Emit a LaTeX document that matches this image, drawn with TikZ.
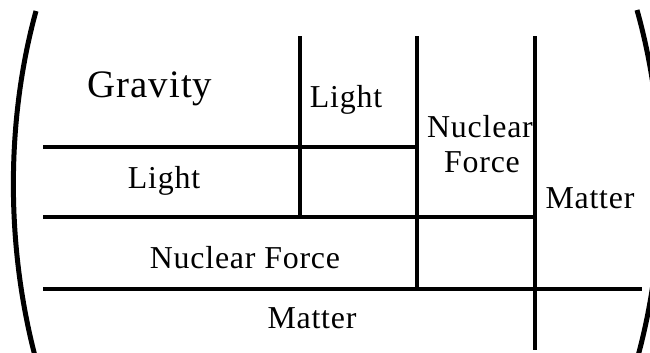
\documentclass[tikz,border=0pt]{standalone}
\usepackage{fontspec}
\setmainfont{Liberation Serif}[LetterSpace=2.5]
\begin{document}
\begin{tikzpicture}[x=1bp,y=-1bp,
  grid/.style={line width=4bp},
  paren/.style={line width=5bp},
  lbl/.style={anchor=base,inner sep=0pt,font=\fontsize{32}{35}\selectfont},
  big/.style={anchor=base,inner sep=0pt,font=\fontsize{39}{42}\selectfont}]
\useasboundingbox (0,0) rectangle (650,352);
\begin{scope}
\clip (0,0) rectangle (650,352);
% parentheses
\draw[paren] (36,11) .. controls (6,120) and (6,245) .. (35,356);
\draw[paren] (637,10) .. controls (668,120) and (668,245) .. (638,356);
% horizontal lines
\draw[grid] (43,147) -- (417,147);
\draw[grid] (43,217) -- (535,217);
\draw[grid] (43,289) -- (642,289);
% vertical lines
\draw[grid] (300,36) -- (300,217);
\draw[grid] (417,36) -- (417,289);
\draw[grid] (535,36) -- (535,350);
\end{scope}
% labels
\node[big] (gravity) at (150,97) {Gravity};
\node[lbl] (light1) at (164,188) {Light};
\node[lbl] (light2) at (346,107) {Light};
\node[lbl] (nf1) at (245,268) {Nuclear Force};
\node[lbl] (matter1) at (312,328) {Matter};
\node[lbl] (nuc) at (480,137) {Nuclear};
\node[lbl] (force) at (482,172) {Force};
\node[lbl] (matter2) at (590,208) {Matter};
\end{tikzpicture}
\end{document}
